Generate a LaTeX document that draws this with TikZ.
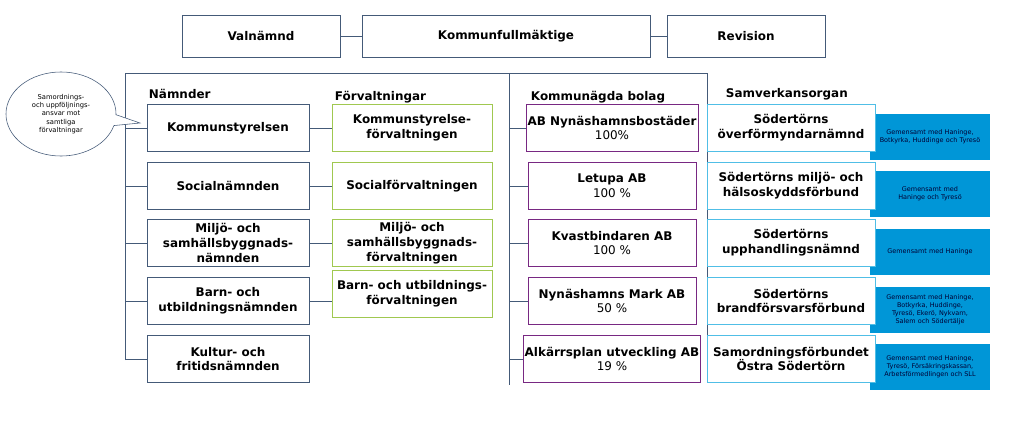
\documentclass[tikz,border=0pt]{standalone}
\usepackage{fontspec}
\setmainfont{DejaVu Sans}
\usetikzlibrary{shapes.callouts, positioning}
\definecolor{org_line}{RGB}{68, 90, 120}
\definecolor{forv_green}{RGB}{160, 200, 80}
\definecolor{bolag_purple}{RGB}{120, 40, 130}
\definecolor{samv_blue}{RGB}{80, 190, 230}
\definecolor{note_blue}{RGB}{0, 150, 215}
\begin{document}
\begin{tikzpicture}[x=0.025cm, y=-0.025cm,
        box/.style={draw=org_line, fill=white, align=center, font=\fontsize{8.5}{10.5}\selectfont\bfseries,
                    minimum width=4.05cm, minimum height=1.18cm, inner sep=1pt},
        forv/.style={box, draw=forv_green, minimum width=4.0cm},
        bolag/.style={box, draw=bolag_purple, minimum width=4.2cm},
        samv/.style={box, draw=samv_blue, minimum width=4.2cm},
        note/.style={fill=note_blue, text=black!80!blue, align=center, font=\fontsize{4.6}{5.6}\selectfont,
                     minimum width=3.0cm, minimum height=1.15cm, inner sep=1pt, text width=2.8cm},
        head/.style={anchor=west, font=\fontsize{8.5}{10}\selectfont\bfseries},
        link/.style={draw=org_line}]
  \useasboundingbox (0,0) rectangle (1024,426);
  % top row
  \node[box, minimum width=3.95cm, minimum height=1.05cm] (valn) at (261,36) {Valnämnd};
  \node[box, minimum width=7.2cm, minimum height=1.05cm] (kf) at (506,36) {Kommunfullmäktige};
  \node[box, minimum width=3.95cm, minimum height=1.05cm] (rev) at (746,36) {Revision};
  \draw[link] (valn) -- (kf);
  \draw[link] (kf) -- (rev);
  % frame
  \coordinate (tl) at (125,73);
  \coordinate (tr) at (707,73);
  \coordinate (tm) at (509,73);
  \draw[link] (125,360) -- (tl) -- (tr) -- (707,359);
  \draw[link] (tm) -- (509,385);
  % headers
  \node[head] (hn) at (144,94) {Nämnder};
  \node[head] (hf) at (330,97) {Förvaltningar};
  \node[head] (hb) at (526,97) {Kommunägda bolag};
  \node[head] (hs) at (721,94) {Samverkansorgan};
  % nämnder
  \node[box] (n1) at (228,128) {Kommunstyrelsen};
  \node[box] (n2) at (228,186) {Socialnämnden};
  \node[box] (n3) at (228,243) {Miljö- och\\samhällsbyggnads-\\nämnden};
  \node[box] (n4) at (228,301) {Barn- och\\utbildningsnämnden};
  \node[box] (n5) at (228,359) {Kultur- och\\fritidsnämnden};
  \foreach \i in {1,...,5} {\draw[link] (n\i.west) -- (125,0 |- n\i.west);}
  % förvaltningar
  \node[forv] (f1) at (412,128) {Kommunstyrelse-\\förvaltningen};
  \node[forv] (f2) at (412,186) {Socialförvaltningen};
  \node[forv] (f3) at (412,243) {Miljö- och\\samhällsbyggnads-\\förvaltningen};
  \node[forv] (f4) at (412,294) {Barn- och utbildnings-\\förvaltningen};
  \foreach \i in {1,...,4} {\draw[link] (n\i.east) -- (n\i.east -| f\i.west);}
  % bolag
  \node[bolag] (b1) at (612,128) {AB Nynäshamnsbostäder\\\mdseries 100\%};
  \node[bolag] (b2) at (612,186) {Letupa AB\\\mdseries 100 \%};
  \node[bolag] (b3) at (612,243) {Kvastbindaren AB\\\mdseries 100 \%};
  \node[bolag] (b4) at (612,301) {Nynäshamns Mark AB\\\mdseries 50 \%};
  \node[bolag] (b5) at (612,359) {Alkärrsplan utveckling AB\\\mdseries 19 \%};
  \foreach \i in {1,...,5} {\draw[link] (b\i.west) -- (509,0 |- b\i.west);}
  % samverkan
  \node[note] (g1) at (930,137) {Gemensamt med Haninge, Botkyrka, Huddinge och Tyresö};
  \node[note] (g2) at (930,194) {Gemensamt med Haninge och Tyresö};
  \node[note] (g3) at (930,252) {Gemensamt med Haninge};
  \node[note] (g4) at (930,310) {Gemensamt med Haninge, Botkyrka, Huddinge, Tyresö, Ekerö, Nykvarn, Salem och Södertälje};
  \node[note] (g5) at (930,367) {Gemensamt med Haninge, Tyresö, Försäkringskassan, Arbetsförmedlingen och SLL};
  \node[samv] (s1) at (791,128) {Södertörns\\överförmyndarnämnd};
  \node[samv] (s2) at (791,186) {Södertörns miljö- och\\hälsoskyddsförbund};
  \node[samv] (s3) at (791,243) {Södertörns\\upphandlingsnämnd};
  \node[samv] (s4) at (791,301) {Södertörns\\brandförsvarsförbund};
  \node[samv] (s5) at (791,359) {Samordningsförbundet\\Östra Södertörn};
  % callout
  \node[ellipse callout, draw=org_line, fill=white, minimum width=2.75cm, minimum height=2.1cm,
        align=center, font=\fontsize{4.8}{5.8}\selectfont, inner sep=0pt,
        callout absolute pointer={(140,123)}] (bubble) at (61,114)
        {Samordnings-\\och uppföljnings-\\ansvar mot\\samtliga\\förvaltningar};
\end{tikzpicture}
\end{document}
